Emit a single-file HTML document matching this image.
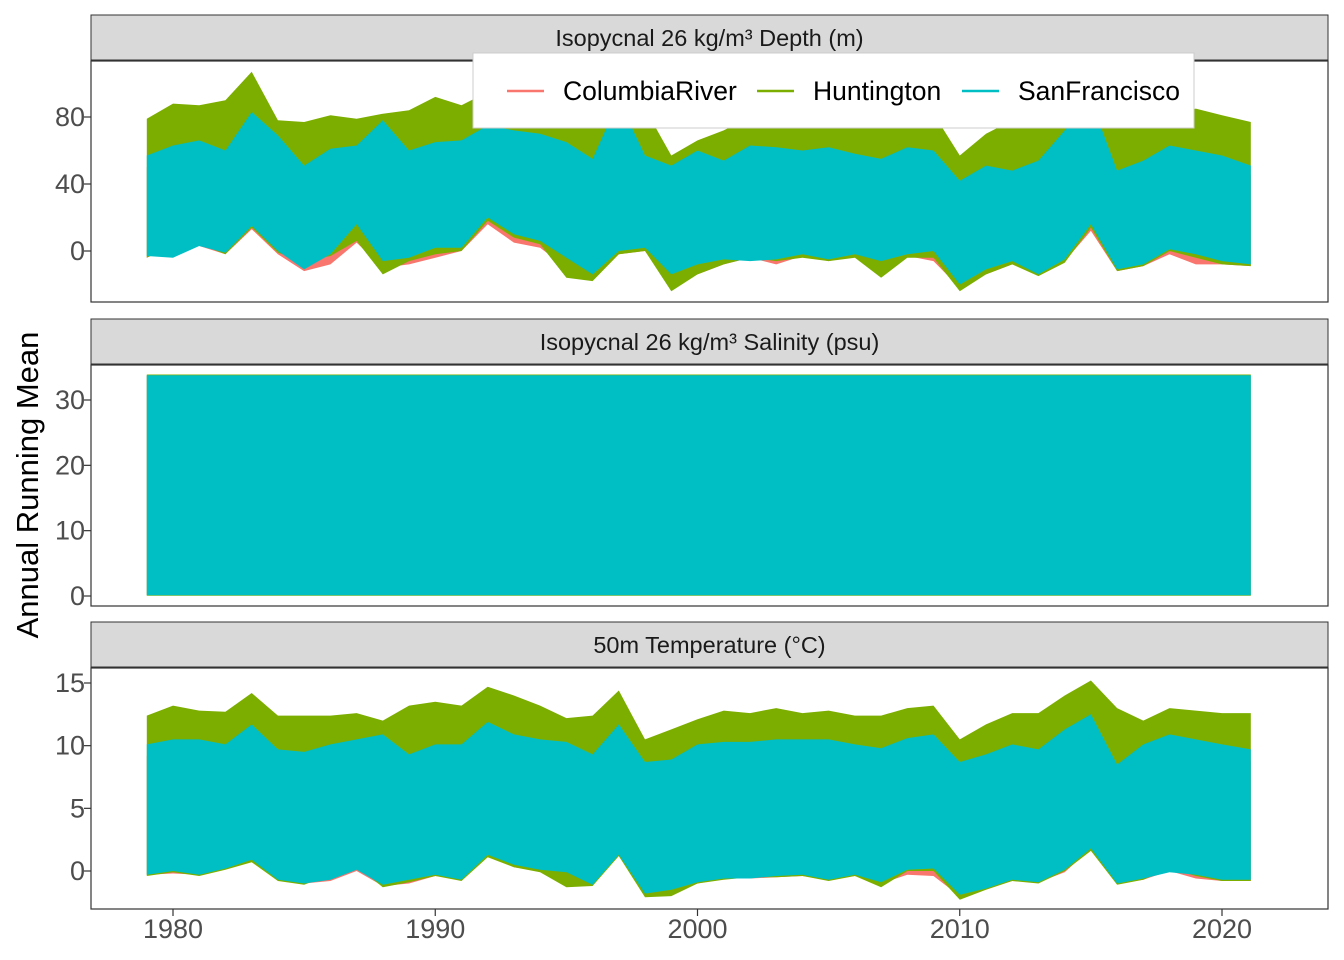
<!DOCTYPE html>
<html><head><meta charset="utf-8"><style>
html,body{margin:0;padding:0;background:#fff;}
svg{display:block;font-family:"Liberation Sans",sans-serif;}
</style></head><body>
<svg id="chart" width="1344" height="960" xmlns="http://www.w3.org/2000/svg"></svg>
<script>
const years=[1979,1980,1981,1982,1983,1984,1985,1986,1987,1988,1989,1990,1991,1992,1993,1994,1995,1996,1997,1998,1999,2000,2001,2002,2003,2004,2005,2006,2007,2008,2009,2010,2011,2012,2013,2014,2015,2016,2017,2018,2019,2020,2021.1];
const seriesNames=["ColumbiaRiver","Huntington","SanFrancisco"];
const xTicks=[1980,1990,2000,2010,2020];
// Depth panel
const depthRedTop=[50,55,58,52,72,60,45,54,55,68,52,58,58,66,62,60,56,48,78,50,45,52,48,55,54,52,54,50,48,54,52,38,45,42,48,62,78,42,48,55,52,50,45];
const depthRedLow=[-4,3,3,-2,13,-2,-12,-8,5,-10,-8,-4,0,16,5,2,-10,-16,-2,0,-20,-14,-8,-4,-8,-3,-6,-3,-10,-3,-6,-22,-14,-8,-14,-6,12,-12,-9,-2,-8,-8,-9];
const depthGreenTop=[79,88,87,90,107,78,77,81,79,82,84,92,87,95,90,88,85,80,95,85,57,66,72,80,82,80,78,82,80,84,82,57,70,78,75,82,86,80,84,82,85,81,77];
const depthGreenLow=[-4,4,4,-2,14,-1,-6,-3,6,-14,-6,-2,0,18,8,4,-16,-18,-2,0,-24,-14,-8,-4,-6,-4,-6,-4,-16,-4,-4,-24,-14,-8,-15,-7,14,-12,-9,0,-4,-8,-9];
const depthCyanTop=[57,63,66,60,83,69,51,61,63,78,60,65,66,75,72,70,65,55,90,57,51,60,54,63,62,60,62,58,55,62,60,42,51,48,54,72,90,48,54,63,60,57,51];
const depthCyanLow=[-3,-4,3,-1,15,0,-11,-2,16,-6,-4,2,2,20,10,6,-4,-14,0,2,-14,-8,-5,-6,-5,-2,-5,-2,-6,-2,0,-20,-11,-6,-14,-5,16,-11,-8,1,-2,-6,-8];
const depthTicks=[0,40,80];
// Salinity panel
const salRedTop=[33.7,33.7,33.7,33.7,33.7,33.7,33.7,33.7,33.7,33.7,33.7,33.7,33.7,33.7,33.7,33.7,33.7,33.7,33.7,33.7,33.7,33.7,33.7,33.7,33.7,33.7,33.7,33.7,33.7,33.7,33.7,33.7,33.7,33.7,33.7,33.7,33.7,33.7,33.7,33.7,33.7,33.7,33.7];
const salRedLow=[0.1,0.1,0.1,0.1,0.1,0.1,0.1,0.1,0.1,0.1,0.1,0.1,0.1,0.1,0.1,0.1,0.1,0.1,0.1,0.1,0.1,0.1,0.1,0.1,0.1,0.1,0.1,0.1,0.1,0.1,0.1,0.1,0.1,0.1,0.1,0.1,0.1,0.1,0.1,0.1,0.1,0.1,0.1];
const salGreenTop=[33.9,33.9,33.9,33.9,33.9,33.9,33.9,33.9,33.9,33.9,33.9,33.9,33.9,33.9,33.9,33.9,33.9,33.9,33.9,33.9,33.9,33.9,33.9,33.9,33.9,33.9,33.9,33.9,33.9,33.9,33.9,33.9,33.9,33.9,33.9,33.9,33.9,33.9,33.9,33.9,33.9,33.9,33.9];
const salGreenLow=[0.05,0.05,0.05,0.05,0.05,0.05,0.05,0.05,0.05,0.05,0.05,0.05,0.05,0.05,0.05,0.05,0.05,0.05,0.05,0.05,0.05,0.05,0.05,0.05,0.05,0.05,0.05,0.05,0.05,0.05,0.05,0.05,0.05,0.05,0.05,0.05,0.05,0.05,0.05,0.05,0.05,0.05,0.05];
const salCyanTop=[33.8,33.8,33.8,33.8,33.8,33.8,33.8,33.8,33.8,33.8,33.8,33.8,33.8,33.8,33.8,33.8,33.8,33.8,33.8,33.8,33.8,33.8,33.8,33.8,33.8,33.8,33.8,33.8,33.8,33.8,33.8,33.8,33.8,33.8,33.8,33.8,33.8,33.8,33.8,33.8,33.8,33.8,33.8];
const salCyanLow=[0.1,0.1,0.1,0.1,0.1,0.1,0.1,0.1,0.1,0.1,0.1,0.1,0.1,0.1,0.1,0.1,0.1,0.1,0.1,0.1,0.1,0.1,0.1,0.1,0.1,0.1,0.1,0.1,0.1,0.1,0.1,0.1,0.1,0.1,0.1,0.1,0.1,0.1,0.1,0.1,0.1,0.1,0.1];
const salTicks=[0,10,20,30];
// Temperature panel
const tempRedTop=[9.2,9.6,9.6,9.2,10.8,8.8,8.6,9.2,9.6,10.0,8.4,9.2,9.2,11.0,10.0,9.6,9.4,8.4,10.8,7.8,8.0,9.2,9.4,9.4,9.6,9.6,9.6,9.2,8.9,9.7,10.0,7.8,8.4,9.2,8.8,10.4,11.6,7.6,9.2,10.0,9.6,9.2,8.8];
const tempRedLow=[-0.3,-0.2,-0.3,0.3,0.8,-0.6,-1.0,-0.8,0,-1.2,-1.0,-0.4,-0.6,1.2,0.3,0,-0.3,-1.1,1.2,-1.9,-1.7,-1.0,-0.6,-0.6,-0.5,-0.4,-0.7,-0.4,-1.0,-0.3,-0.4,-2.0,-1.4,-0.8,-0.9,-0.1,1.8,-1.0,-0.7,0,-0.6,-0.8,-0.8];
const tempGreenTop=[12.4,13.2,12.8,12.7,14.2,12.4,12.4,12.4,12.6,12.0,13.2,13.5,13.2,14.7,14.0,13.2,12.2,12.4,14.4,10.5,11.3,12.1,12.8,12.6,13.0,12.6,12.8,12.4,12.4,13.0,13.2,10.5,11.7,12.6,12.6,14.0,15.2,13.0,12.0,13.0,12.8,12.6,12.6];
const tempGreenLow=[-0.4,-0.1,-0.4,0.1,0.7,-0.8,-1.1,-0.3,0.4,-1.3,-0.9,-0.4,-0.8,1.1,0.3,-0.1,-1.3,-1.2,1.2,-2.1,-2.0,-1.0,-0.7,-0.5,-0.5,-0.4,-0.8,-0.4,-1.3,0,0,-2.3,-1.5,-0.8,-1.0,0,1.6,-1.1,-0.7,0.2,-0.4,-0.8,-0.8];
const tempCyanTop=[10.1,10.5,10.5,10.1,11.7,9.7,9.5,10.1,10.5,10.9,9.3,10.1,10.1,11.9,10.9,10.5,10.3,9.3,11.7,8.7,8.9,10.1,10.3,10.3,10.5,10.5,10.5,10.1,9.8,10.6,10.9,8.7,9.3,10.1,9.7,11.3,12.5,8.5,10.1,10.9,10.5,10.1,9.7];
const tempCyanLow=[-0.3,0,-0.3,0.2,0.9,-0.7,-1,-0.7,0.1,-1.1,-0.7,-0.3,-0.7,1.3,0.5,0.1,-0.1,-1.1,1.3,-1.8,-1.5,-0.9,-0.6,-0.6,-0.4,-0.3,-0.7,-0.3,-0.9,0.1,0.2,-1.9,-1.4,-0.7,-0.9,0.1,1.8,-1,-0.6,-0.1,-0.3,-0.7,-0.7];
const tempTicks=[0,5,10,15];

const NS="http://www.w3.org/2000/svg";
const svg=document.getElementById('chart');
const colors=["#F8766D","#7CAE00","#00BFC4"];
function mk(tag,attrs,parent){const e=document.createElementNS(NS,tag);for(const k in attrs)e.setAttribute(k,attrs[k]);(parent||svg).appendChild(e);return e;}
const X0=91,X1=1328;
function xs(yr){return 173+(yr-1980)*(1222-173)/40;}

const panels=[
 {title:"Isopycnal 26 kg/m³ Depth (m)",strip:15,top:61,bot:302,v0:0,y0:251,v1:80,y1:117,ticks:depthTicks,name:"depth",
  data:[[depthRedTop,depthRedLow],[depthGreenTop,depthGreenLow],[depthCyanTop,depthCyanLow]]},
 {title:"Isopycnal 26 kg/m³ Salinity (psu)",strip:319,top:365,bot:606,v0:0,y0:596,v1:30,y1:400,ticks:salTicks,name:"salinity",
  data:[[salRedTop,salRedLow],[salGreenTop,salGreenLow],[salCyanTop,salCyanLow]]},
 {title:"50m Temperature (°C)",strip:622,top:668,bot:909,v0:0,y0:871,v1:15,y1:683,ticks:tempTicks,name:"temperature",
  data:[[tempRedTop,tempRedLow],[tempGreenTop,tempGreenLow],[tempCyanTop,tempCyanLow]]}
];

panels.forEach(p=>{
  const ys=v=>p.y0+(v-p.v0)*(p.y1-p.y0)/(p.v1-p.v0);
  const g=mk('g',{});
  
  
  const st=mk('rect',{x:X0,y:p.strip,width:X1-X0,height:p.top-p.strip-1,fill:"#d9d9d9",stroke:"#333",'stroke-width':1},g);
  
  
  const tt=mk('text',{x:(X0+X1)/2,y:p.strip+31,'text-anchor':'middle','font-size':23.5,fill:'#1a1a1a'},g);
  tt.textContent=p.title;
  
  
  const clipId='clip-'+p.name;
  const cp=mk('clipPath',{id:clipId},g);
  mk('rect',{x:X0,y:p.top,width:X1-X0,height:p.bot-p.top},cp);
  const dg=mk('g',{'clip-path':'url(#'+clipId+')'},g);
  p.data.forEach((d,si)=>{
    const up=years.map((yr,i)=>xs(yr).toFixed(1)+','+ys(d[0][i]).toFixed(1));
    const lo=years.map((yr,i)=>xs(yr).toFixed(1)+','+ys(d[1][i]).toFixed(1)).reverse();
    const poly=mk('polygon',{points:up.concat(lo).join(' '),fill:colors[si]},dg);
    
    
  });
  mk('rect',{x:X0,y:p.top,width:X1-X0,height:p.bot-p.top,fill:'none',stroke:'#333','stroke-width':1.2},g);
  p.ticks.forEach(t=>{
    const y=ys(t);
    mk('line',{x1:X0-7,x2:X0,y1:y,y2:y,stroke:'#333','stroke-width':1.2},g);
    const lab=mk('text',{x:X0-6,y:y+9,'text-anchor':'end','font-size':27,fill:'#4d4d4d'},g);
    lab.textContent=t;
    
    
  });
});
xTicks.forEach(t=>{
  const x=xs(t);
  mk('line',{x1:x,x2:x,y1:909,y2:916,stroke:'#333','stroke-width':1.2});
  const lab=mk('text',{x:x,y:938,'text-anchor':'middle','font-size':27,fill:'#4d4d4d'});
  lab.textContent=t;
  
  
});
const yt=mk('text',{x:0,y:0,'text-anchor':'middle','font-size':31,fill:'#000',transform:'translate(38,485) rotate(-90)'});
yt.textContent="Annual Running Mean";



const lg=mk('g',{});


mk('rect',{x:473,y:53,width:721,height:75,fill:'#fff',stroke:'#ccc','stroke-width':1},lg);
const lx=[507,757,962];
seriesNames.forEach((n,i)=>{
  const e=mk('g',{},lg);
  
  
  mk('line',{x1:lx[i],x2:lx[i]+37,y1:91,y2:91,stroke:colors[i],'stroke-width':2.5},e);
  const t=mk('text',{x:lx[i]+56,y:100,'font-size':26.5,fill:'#000'},e);
  t.textContent=n;
});
</script>
</body></html>
